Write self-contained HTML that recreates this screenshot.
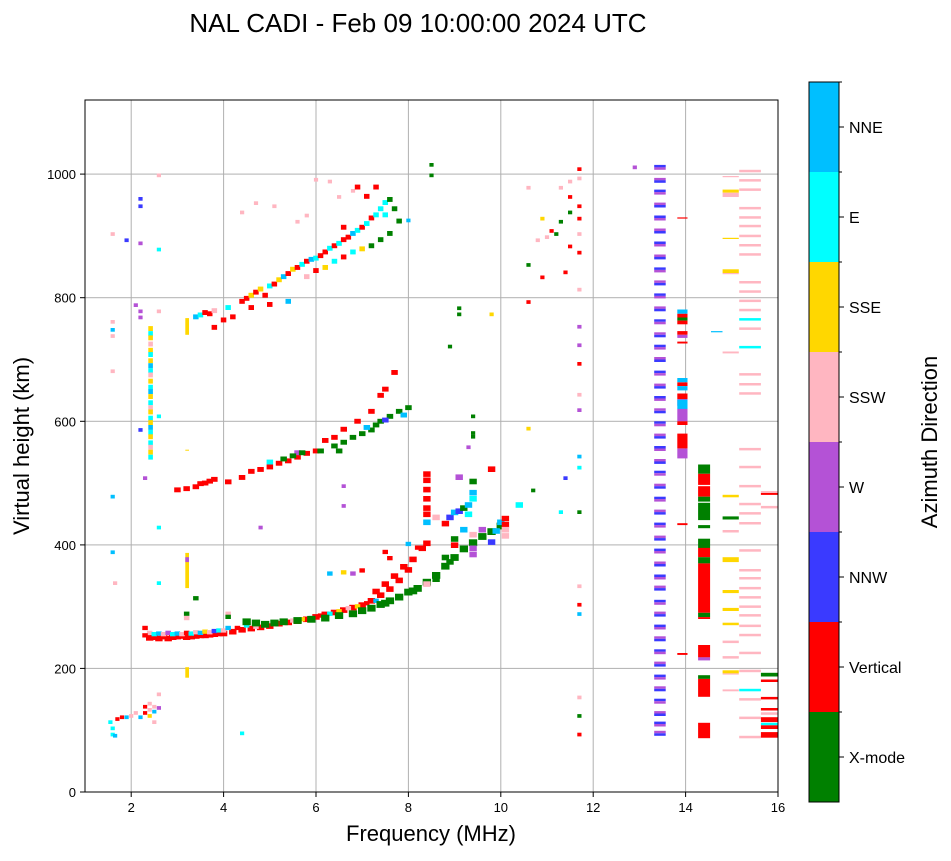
<!DOCTYPE html>
<html><head><meta charset="utf-8"><style>
body{margin:0;background:#fff;font-family:"Liberation Sans",sans-serif}
svg text{font-family:"Liberation Sans",sans-serif}
</style></head><body>
<svg id="chart" width="951" height="856" xmlns="http://www.w3.org/2000/svg">
<text x="418" y="32" font-size="26" text-anchor="middle">NAL CADI - Feb 09 10:00:00 2024 UTC</text>
<g id="grid"></g>
<g id="marks"></g>
<rect x="85" y="100" width="693" height="692" fill="none" stroke="#000" stroke-width="1"/>
<g id="axes"></g>
<text x="431" y="841" font-size="22" text-anchor="middle">Frequency (MHz)</text>
<text transform="translate(29,446) rotate(-90)" font-size="22" text-anchor="middle">Virtual height (km)</text>
<g id="cbar"></g>
<text transform="translate(937,442) rotate(-90)" font-size="22" text-anchor="middle">Azimuth Direction</text>
</svg>
<script>
const categories=["X-mode","Vertical","NNW","W","SSW","SSE","E","NNE"];
const catColors=["#008000","#ff0000","#3a3aff","#b452d6","#ffb6c1","#ffd700","#00ffff","#00bfff"];
const xTicks=[2,4,6,8,10,12,14,16];
const yTicks=[0,200,400,600,800,1000];
const traceF1=[[2.4,245,1],[2.5,246,1],[2.6,244,1],[2.7,247,1],[2.8,244,1],[2.9,246,1],[3.0,247,1],[3.1,248,1],[3.2,246,1],[3.3,247,1],[3.4,248,1],[3.5,249,1],[3.6,249,1],[3.7,250,1],[3.8,251,1],[3.9,252,1],[4.0,252,1],[4.2,255,1],[4.4,258,1],[4.6,260,1],[4.8,262,1],[5.0,264,1],[5.2,268,1],[5.4,270,1],[5.6,272,1],[5.8,275,1],[6.0,279,1],[6.2,283,1],[6.4,286,1],[6.6,290,1],[6.8,294,1],[7.0,298,1],[7.2,305,1],[7.4,314,1],[7.6,324,1],[7.8,338,1],[8.0,355,1],[7.3,320,1],[7.5,332,1],[7.7,345,1],[7.9,360,1],[8.1,372,1],[8.3,390,1],[8.4,398,1]];
const traceF1Mixed=[[2.4,254,4],[2.5,252,6],[2.6,253,7],[2.7,252,4],[2.8,254,3],[2.9,252,6],[3.0,253,7],[3.1,252,4],[3.2,254,1],[3.3,253,6],[3.4,255,4],[3.5,254,7],[3.6,256,5],[3.7,255,4],[3.8,257,2],[3.9,258,6],[4.0,258,4],[4.1,262,7],[4.3,262,1],[4.5,266,6],[4.7,264,4],[4.9,266,7],[5.1,270,1],[5.3,272,6],[5.5,274,4],[5.7,276,5],[5.9,278,7],[6.1,282,1],[6.3,285,6],[6.5,289,5],[6.7,294,4],[6.9,297,5],[7.1,302,1],[7.3,306,7],[2.3,262,1],[2.3,250,1],[3.2,285,0],[3.2,278,4],[3.4,310,0],[4.1,285,4],[4.1,280,0],[6.3,350,7],[6.6,352,5],[6.8,350,3],[7.0,355,1],[8.0,398,7],[8.2,392,1],[7.6,375,1],[7.5,385,1]];
const traceF1X=[[4.5,270,0],[4.7,268,0],[4.9,266,0],[5.1,268,0],[5.3,270,0],[5.6,272,0],[5.9,274,0],[6.2,276,0],[6.5,280,0],[6.8,283,0],[7.0,288,0],[7.2,292,0],[7.4,298,0],[7.6,304,0],[7.8,310,0],[8.0,318,0],[8.2,324,0],[8.4,334,0],[8.6,345,0],[8.8,360,0],[9.0,374,0],[9.2,388,0],[9.4,398,0],[9.6,408,0],[9.8,416,0],[10.0,425,0],[7.5,300,0],[8.1,320,0]];
const traceF2=[[3.0,485,1],[3.2,487,1],[3.4,490,1],[3.5,495,1],[3.6,496,1],[3.7,499,1],[3.8,502,1],[4.1,498,1],[4.4,505,1],[4.6,515,1],[4.8,518,1],[5.0,522,1],[5.2,528,1],[5.4,532,1],[5.6,538,1],[5.8,544,1],[6.0,548,1],[6.2,565,1],[6.4,570,1],[6.6,583,1],[6.9,596,1],[7.2,612,1],[7.4,638,1],[7.5,648,1],[7.7,675,1],[5.0,530,6],[5.6,545,3],[6.5,548,0],[5.3,535,0],[5.5,540,0],[5.7,545,0],[6.1,548,0],[6.4,556,0],[6.6,562,0],[6.8,570,0],[7.0,576,0],[7.2,582,0],[7.3,590,0],[7.4,596,0],[7.6,604,0],[7.8,612,0],[8.0,618,0],[7.1,586,7],[7.5,598,2],[7.9,606,7]];
const traceF3=[[3.4,765,7],[3.5,768,6],[3.6,772,1],[3.7,770,1],[3.8,775,4],[4.0,760,1],[4.1,780,6],[4.4,790,1],[4.5,795,1],[4.6,800,5],[4.7,805,1],[4.8,810,5],[4.9,800,1],[5.0,815,6],[5.1,818,1],[5.2,825,5],[5.3,830,7],[5.4,835,1],[5.5,842,5],[5.6,845,1],[5.7,850,6],[5.8,855,1],[5.9,858,7],[6.0,860,6],[6.1,864,1],[6.2,870,1],[6.3,876,6],[6.4,880,1],[6.5,884,6],[6.6,890,1],[6.7,894,1],[6.8,900,7],[6.9,905,6],[7.0,910,1],[7.1,916,6],[7.2,925,1],[7.3,930,6],[7.4,940,6],[7.5,950,6],[6.0,840,1],[6.2,845,5],[6.4,855,6],[6.6,862,1],[6.8,870,6],[7.0,875,5],[7.2,880,0],[7.4,890,0],[7.6,900,0],[7.8,920,0],[7.7,940,0],[7.6,955,0],[4.6,780,1],[5.0,785,1],[5.4,790,7],[4.2,765,1],[3.8,748,1],[7.1,960,1],[7.3,975,1],[6.9,975,1],[7.5,930,6],[5.8,830,4],[6.6,910,1]];
const scatterPink=[[4.4,935,4],[4.7,950,4],[5.1,945,4],[5.6,920,4],[5.8,930,4],[6.0,988,4],[6.3,985,4],[6.5,960,4],[6.8,970,4],[1.6,900,4],[1.6,758,4],[1.6,735,4],[1.6,678,4],[2.6,995,4],[2.6,775,4],[1.65,335,4],[2.6,155,4],[2.5,110,4],[9.3,555,3],[10.6,975,4],[11.5,985,4],[11.3,975,4],[11.7,810,4],[11.7,330,4],[11.7,150,4]];
const scatterOther=[[2.2,957,2],[2.2,945,2],[1.9,890,2],[2.2,885,3],[2.6,875,6],[2.1,785,3],[2.2,775,3],[2.2,765,3],[1.6,745,7],[2.2,583,2],[1.6,475,7],[2.3,505,3],[1.6,385,7],[2.6,425,6],[2.6,605,6],[2.6,335,6],[4.4,92,6],[4.8,425,3],[6.6,492,3],[6.6,460,3],[8.0,922,7],[8.5,1012,0],[8.5,995,0],[9.1,780,0],[9.1,770,0],[8.9,718,0],[9.4,605,0],[9.4,578,0],[9.4,572,0],[9.8,770,5],[10.6,585,5],[10.7,485,0],[11.4,505,2],[11.3,450,6],[11.7,540,7],[11.7,522,6],[11.7,450,0],[11.7,300,1],[11.7,285,7],[11.7,120,0],[11.7,90,1],[12.9,1008,3],[10.6,790,1],[10.8,890,4],[11.1,905,1],[11.2,900,0],[11.0,895,4],[10.9,925,5],[10.6,850,0],[10.9,830,1],[11.5,880,1],[11.4,838,1],[11.5,960,1],[11.7,945,1],[11.7,925,1],[11.7,900,4],[11.7,870,1],[11.7,750,3],[11.7,720,3],[11.7,690,1],[11.7,640,4],[11.7,615,3],[11.7,1005,1],[11.7,990,4],[11.5,935,0],[11.3,920,0]];
const cluster9=[[8.4,510,1],[8.4,500,1],[8.4,485,1],[8.4,470,1],[8.4,455,1],[8.4,445,1],[8.4,432,7],[8.6,440,4],[8.8,430,1],[8.9,440,2],[9.0,448,7],[9.1,450,2],[9.2,455,0],[9.3,460,7],[9.3,445,6],[9.1,505,3],[9.4,498,0],[9.4,480,7],[9.4,470,6],[9.0,405,0],[9.0,395,1],[9.2,420,7],[9.4,390,3],[9.4,380,3],[9.4,412,4],[9.6,420,3],[9.8,400,2],[9.9,418,7],[10.0,432,7],[10.1,438,1],[10.1,428,1],[10.1,410,4],[10.1,420,4],[9.8,518,1],[10.4,460,6],[8.8,375,0],[8.9,368,0],[8.6,340,0],[8.4,332,4]];
const lowCluster=[[1.6,90,6],[1.6,100,6],[1.7,115,1],[1.8,118,1],[1.9,118,7],[2.0,120,4],[2.1,125,4],[2.2,118,7],[2.3,125,1],[2.3,135,1],[2.4,140,4],[2.4,130,4],[2.5,135,4],[2.5,127,7],[2.6,133,3],[2.4,120,5],[1.55,110,6],[1.65,88,7]];
const col24H=[750,742,735,725,715,708,698,690,682,675,665,655,648,640,630,622,615,605,598,590,582,575,565,558,550,542];
const col24C=[5,6,5,4,5,6,5,7,6,4,5,6,7,5,6,4,5,6,5,7,6,5,6,4,5,6];
const col32=[[330,385,5],[185,200,5],[740,765,5],[555,552,5],[372,378,3]];
const col134H=[1011,990,971,950,929,908,887,866,845,824,803,782,761,740,720,700,678,657,637,617,596,576,556,535,516,495,474,453,432,411,390,369,348,330,307,288,267,248,227,207,186,167,147,127,110,95];
const col139=[[774,781,7],[768,774,1],[763,768,0],[757,763,1],[740,746,1],[735,740,3],[726,729,1],[663,670,7],[657,663,1],[650,657,7],[636,645,1],[625,636,3],[620,635,7],[600,620,3],[594,600,1],[556,580,1],[540,556,3],[928,930,1],[432,435,1],[222,225,1]];
const col144=[[515,530,0],[497,515,1],[478,495,1],[470,478,0],[440,468,0],[427,432,0],[395,410,0],[380,395,1],[370,380,0],[290,370,1],[283,290,0],[280,283,1],[218,238,1],[213,218,3],[183,189,0],[154,183,1],[87,112,1]];
const col150=[[995,997,4],[970,975,5],[963,970,4],[895,897,5],[840,846,5],[838,840,4],[710,713,4],[477,481,5],[441,446,0],[420,424,4],[372,380,5],[322,327,5],[293,298,5],[270,274,5],[241,245,4],[216,220,4],[192,197,5],[190,192,4],[163,166,4]];
const col154H=[1005,990,975,945,930,916,900,885,870,825,810,795,780,765,750,720,676,660,645,555,526,495,466,451,435,391,359,346,330,315,300,286,269,254,225,196,165,150,120,89];
const col154C=[4,4,4,4,4,4,4,4,4,4,4,4,4,6,4,6,4,4,4,4,4,4,4,4,4,4,4,4,4,4,4,4,4,4,4,4,6,4,4,4];
const col158=[[484,487,4],[481,484,1],[459,463,4],[187,193,0],[178,182,1],[150,154,1],[132,136,1],[125,129,4],[113,121,1],[108,112,6],[102,108,1],[88,97,1]];
const col147=[[744,746,7]];

const X0=85,X1=778,Y0=792,Y1=100,FMIN=1,FMAX=16,HMIN=0,HMAX=1120;
function xs(f){return X0+(f-FMIN)/(FMAX-FMIN)*(X1-X0);}
function ys(h){return Y0-(h-HMIN)/(HMAX-HMIN)*(Y0-Y1);}
const NS="http://www.w3.org/2000/svg";
const marks=document.getElementById('marks');
function rect(parent,x,y,w,h,fill){const r=document.createElementNS(NS,'rect');r.setAttribute('x',x.toFixed(1));r.setAttribute('y',y.toFixed(1));r.setAttribute('width',Math.max(w,0.8).toFixed(1));r.setAttribute('height',Math.max(h,1).toFixed(1));r.setAttribute('fill',fill);parent.appendChild(r);return r;}
function pt(p,w,dh){const f=p[0],h=p[1];const r=rect(marks,xs(f-w/2),ys(h+dh),xs(f+w/2)-xs(f-w/2),ys(h)-ys(h+dh),catColors[p[2]]);

}
function span(f0,f1,h0,h1,c){const r=rect(marks,xs(f0),ys(h1),xs(f1)-xs(f0),ys(h0)-ys(h1),catColors[c]);

}
const grid=document.getElementById('grid');
xTicks.forEach(t=>{if(t<FMAX)rect(grid,xs(t)-0.5,Y1,1,Y0-Y1,'#b0b0b0');});
yTicks.forEach(t=>{if(t>0)rect(grid,X0,ys(t)-0.5,X1-X0,1,'#b0b0b0');});
[scatterPink,scatterOther,lowCluster].forEach(a=>a.forEach(p=>pt(p,0.09,6)));
traceF1.forEach(p=>pt(p,0.16,9));
traceF1Mixed.forEach(p=>pt(p,0.12,7));
traceF1X.forEach(p=>pt(p,0.18,11));
traceF2.forEach(p=>pt(p,0.14,8));
traceF3.forEach(p=>pt(p,0.12,8));
cluster9.forEach(p=>pt(p,0.16,9));
col24H.forEach((h,i)=>span(2.37,2.47,h-4,h+4,col24C[i]));
col32.forEach(b=>span(3.17,3.25,b[0],b[1]+2,b[2]));
col134H.forEach((h,i)=>{span(13.32,13.57,h,h+4,i%2?3:2);span(13.32,13.57,h-4,h,i%2?2:3);});
col139.forEach(b=>span(13.82,14.04,b[0],b[1],b[2]));
col144.forEach(b=>span(14.27,14.53,b[0],b[1],b[2]));
col150.forEach(b=>span(14.8,15.15,b[0],b[1],b[2]));
col147.forEach(b=>span(14.55,14.8,b[0],b[1],b[2]));
col154H.forEach((h,i)=>span(15.16,15.63,h-2,h+2,col154C[i]));
col158.forEach(b=>span(15.63,16,b[0],b[1],b[2]));
const axes=document.getElementById('axes');
function txt(p,x,y,s,anchor,size,name){const t=document.createElementNS(NS,'text');t.setAttribute('x',x);t.setAttribute('y',y);t.setAttribute('text-anchor',anchor);t.setAttribute('font-size',size);t.textContent=s;


p.appendChild(t);}
xTicks.forEach(t=>{rect(axes,xs(t)-0.5,Y0,1,5,'#000');txt(axes,xs(t),Y0+20,t,'middle',13,'x-tick-label');});
yTicks.forEach(t=>{rect(axes,X0-5,ys(t)-0.5,5,1,'#000');txt(axes,X0-9,ys(t)+5,t,'end',13,'y-tick-label');});
const cb=document.getElementById('cbar');
const CB_X=809,CB_W=30,CB_TOP=82,CB_BOT=802,seg=(CB_BOT-CB_TOP)/categories.length;
categories.forEach((c,i)=>{const y=CB_BOT-(i+1)*seg;const r=rect(cb,CB_X,y,CB_W,seg,catColors[i]);


rect(cb,CB_X+CB_W,y+seg/2-0.5,5,1,'#000');
rect(cb,CB_X+CB_W,y-0.5,3,1,'#000');
txt(cb,CB_X+CB_W+10,y+seg/2+6,c,'start',16,'legend-entry');});
const fr=document.createElementNS(NS,'rect');fr.setAttribute('x',CB_X);fr.setAttribute('y',CB_TOP);fr.setAttribute('width',CB_W);fr.setAttribute('height',CB_BOT-CB_TOP);fr.setAttribute('fill','none');fr.setAttribute('stroke','#000');


cb.appendChild(fr);
</script>
</body></html>
